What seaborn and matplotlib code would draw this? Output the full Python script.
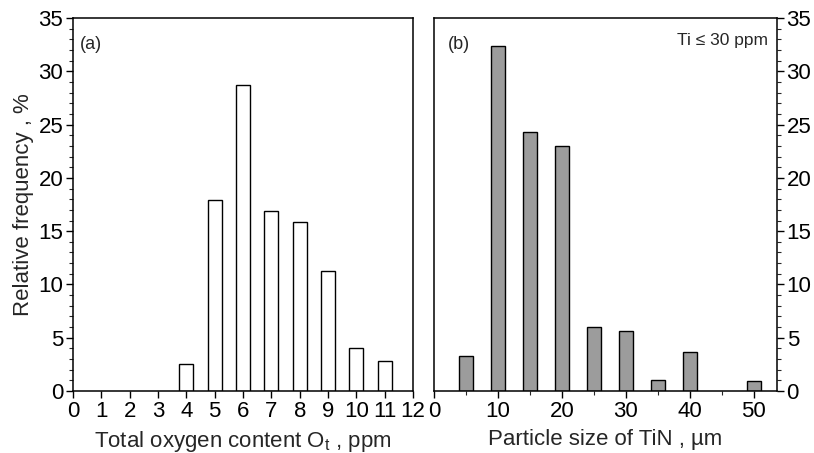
import numpy as np
import pandas as pd
import seaborn as sns
import matplotlib.pyplot as plt
from matplotlib.ticker import MultipleLocator

# panel (a): total oxygen content
oxygen_ppm = [4, 5, 6, 7, 8, 9, 10, 11]
oxygen_freq = [2.5, 17.9, 28.7, 16.9, 15.9, 11.3, 4.0, 2.8]

# panel (b): TiN particle size
tin_size = [5, 10, 15, 20, 25, 30, 35, 40, 50]
tin_freq = [3.3, 32.4, 24.3, 23.0, 6.0, 5.6, 1.05, 3.7, 0.95]

sns.set_style("ticks")
plt.rcParams['font.family'] = ['Liberation Sans', 'DejaVu Sans']
plt.rcParams['mathtext.fontset'] = 'custom'
plt.rcParams['mathtext.rm'] = 'Liberation Sans'
plt.rcParams['mathtext.it'] = 'Liberation Sans'

fig = plt.figure(figsize=(8.14, 4.53), dpi=100)
ax1 = fig.add_axes([0.0897, 0.137, 0.4177, 0.823])
ax2 = fig.add_axes([0.533, 0.137, 0.4214, 0.823])

df_a = pd.DataFrame({"x": oxygen_ppm, "y": oxygen_freq})
df_b = pd.DataFrame({"x": tin_size, "y": tin_freq})

sns.barplot(data=df_a, x="x", y="y", native_scale=True, width=0.5,
            color="white", edgecolor="black", linewidth=1.0, saturation=1, ax=ax1)
sns.barplot(data=df_b, x="x", y="y", native_scale=True, width=0.44,
            color="#9c9c9c", edgecolor="black", linewidth=1.0, saturation=1, ax=ax2)

for ax in (ax1, ax2):
    ax.set_ylim(0, 35)
    for s in ax.spines.values():
        s.set_visible(True)
        s.set_linewidth(1.1)
        s.set_color("black")
    ax.tick_params(labelsize=16, colors="black", width=1.0, length=5, pad=2)
    ax.tick_params(which="minor", length=3, width=0.8)
    ax.yaxis.set_major_locator(MultipleLocator(5))
    ax.yaxis.set_minor_locator(MultipleLocator(1))

ax1.set_xlim(0, 12)
ax1.set_xticks(range(0, 13))
ax1.set_xlabel("Total oxygen content O$_t$ , ppm", fontsize=16, labelpad=5)
ax1.set_ylabel("Relative frequency , %", fontsize=16, labelpad=3)
ax1.text(0.02, 0.93, "(a)", transform=ax1.transAxes, fontsize=13, va="center")

ax2.set_xlim(0, 53.6)
ax2.set_xticks([0, 10, 20, 30, 40, 50])
ax2.set_xticks([5, 15, 25, 35, 45], minor=True)
ax2.yaxis.tick_right()
ax2.yaxis.set_label_position("right")
ax2.set_ylabel("")
ax2.set_xlabel("Particle size of TiN , µm", fontsize=16, labelpad=5)
ax2.text(0.04, 0.93, "(b)", transform=ax2.transAxes, fontsize=13, va="center")
ax2.text(0.975, 0.94, "Ti ≤ 30 ppm", transform=ax2.transAxes, fontsize=12.5,
         va="center", ha="right")

fig.savefig("out.png", dpi=100)
